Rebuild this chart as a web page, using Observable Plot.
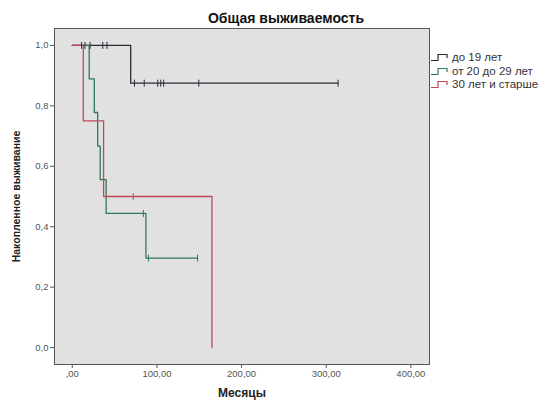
<!DOCTYPE html>
<html><head><meta charset="utf-8">
<script src="https://cdn.jsdelivr.net/npm/d3@7"></script>
<script src="https://cdn.jsdelivr.net/npm/@observablehq/plot@0.6"></script>
<style>
body{margin:0;background:#fff;font-family:"Liberation Sans",Arial,sans-serif}
#wrap{position:relative;width:554px;height:401px;overflow:hidden}
#legend{position:absolute;left:0;top:0}
.item{position:absolute;white-space:nowrap;font-size:11.5px;color:#333;line-height:13px;height:13px}
.item svg{position:absolute;left:0;top:2px}
.item span{position:absolute;left:21px;top:0}
</style></head>
<body><div id="wrap"><div id="chart"></div><div id="legend"></div></div>
<script>
const title = "Общая выживаемость";
const xLabel = "Месяцы";
const yLabel = "Накопленное выживание";
const groups = ["до 19 лет", "от 20 до 29 лет", "30 лет и старше"];
const colors = ["#2b2b38", "#2f7a58", "#c04858"];
const xTicks = [0, 100, 200, 300, 400];
const yTicks = [0, 0.2, 0.4, 0.6, 0.8, 1.0];

// step curves: event times and survival after each event
const g1Times = [0, 69, 314];
const g1Surv  = [1, 0.875, 0.875];
const g2Times = [0, 20, 26, 30, 33, 40, 87, 148];
const g2Surv  = [1, 0.889, 0.778, 0.667, 0.556, 0.444, 0.296, 0.296];
const g3Times = [0, 13, 37, 165];
const g3Surv  = [1, 0.75, 0.5, 0];

// censored observations
const g1CensTimes = [11, 15, 21, 36, 41, 73.5, 85, 101, 104.5, 108, 149.5, 314];
const g1CensSurv  = [1, 1, 1, 1, 1, 0.875, 0.875, 0.875, 0.875, 0.875, 0.875, 0.875];
const g2CensTimes = [84, 90, 148];
const g2CensSurv  = [0.444, 0.296, 0.296];
const g3CensTimes = [72];
const g3CensSurv  = [0.5];

const curveT = [g1Times, g2Times, g3Times];
const curveS = [g1Surv, g2Surv, g3Surv];
const censT = [g1CensTimes, g2CensTimes, g3CensTimes];
const censS = [g1CensSurv, g2CensSurv, g3CensSurv];

const rows = groups.flatMap((g, i) => curveT[i].map((t, j) => ({g, t, s: curveS[i][j]})));
const cens = groups.flatMap((g, i) => censT[i].map((t, j) => ({g, t, s: censS[i][j]})));

const tickSymbol = {draw(ctx, size) { const r = Math.sqrt(size / Math.PI); ctx.moveTo(0, -r); ctx.lineTo(0, r); }};
const fmtX = d => d === 0 ? ",00" : d3.format(".2f")(d).replace(".", ",");
const fmtY = d => d3.format(".1f")(d).replace(".", ",");

const chart = Plot.plot({
  width: 554, height: 401,
  marginLeft: 54, marginTop: 28, marginRight: 125, marginBottom: 37,
  style: {fontFamily: '"Liberation Sans", Arial, sans-serif', background: "#fff"},
  x: {domain: [-21, 422]},
  y: {domain: [-0.056, 1.056]},
  color: {domain: groups, range: colors},
  marks: [
    Plot.frame({fill: "#e1e1e1", stroke: "none"}),
    Plot.line(rows, {x: "t", y: "s", z: "g", stroke: "g", curve: "step-after", strokeWidth: 1.3}),
    Plot.dot(cens, {x: "t", y: "s", stroke: "g", symbol: tickSymbol, r: 3.5, strokeWidth: 1}),
    Plot.frame({stroke: "#555", strokeWidth: 1}),
    Plot.axisX({ticks: xTicks, tickFormat: fmtX, tickSize: 4, tickPadding: 2, fontSize: 9.5, color: "#555", stroke: "#555", label: null}),
    Plot.axisY({ticks: yTicks, tickFormat: fmtY, tickSize: 4, tickPadding: 2, fontSize: 9.5, color: "#555", stroke: "#555", label: null}),
    Plot.text([yLabel], {frameAnchor: "left", textAnchor: "middle", rotate: -90, dx: -38, fontWeight: "bold", fontSize: 10.5, fill: "#222"}),
    Plot.text([xLabel], {frameAnchor: "bottom", lineAnchor: "middle", dy: 29, fontWeight: "bold", fontSize: 12, fill: "#222"}),
    Plot.text([title], {frameAnchor: "top", lineAnchor: "middle", dy: -10, dx: 44, fontWeight: "bold", fontSize: 14, fill: "#111"})
  ]
});
document.getElementById("chart").appendChild(chart);

const leg = document.getElementById("legend");
const legY = [51, 65, 78];
groups.forEach((g, i) => {
  const d = document.createElement("div");
  d.className = "item";
  d.style.left = "431px";
  d.style.top = legY[i] + "px";
  d.innerHTML = `<svg width="20" height="9"><polyline points="0,7.5 7,7.5 7,1.5 16,1.5 16,5" fill="none" stroke="${colors[i]}" stroke-width="1.2"/></svg><span>${g}</span>`;
  leg.appendChild(d);
});
</script>
</body></html>
